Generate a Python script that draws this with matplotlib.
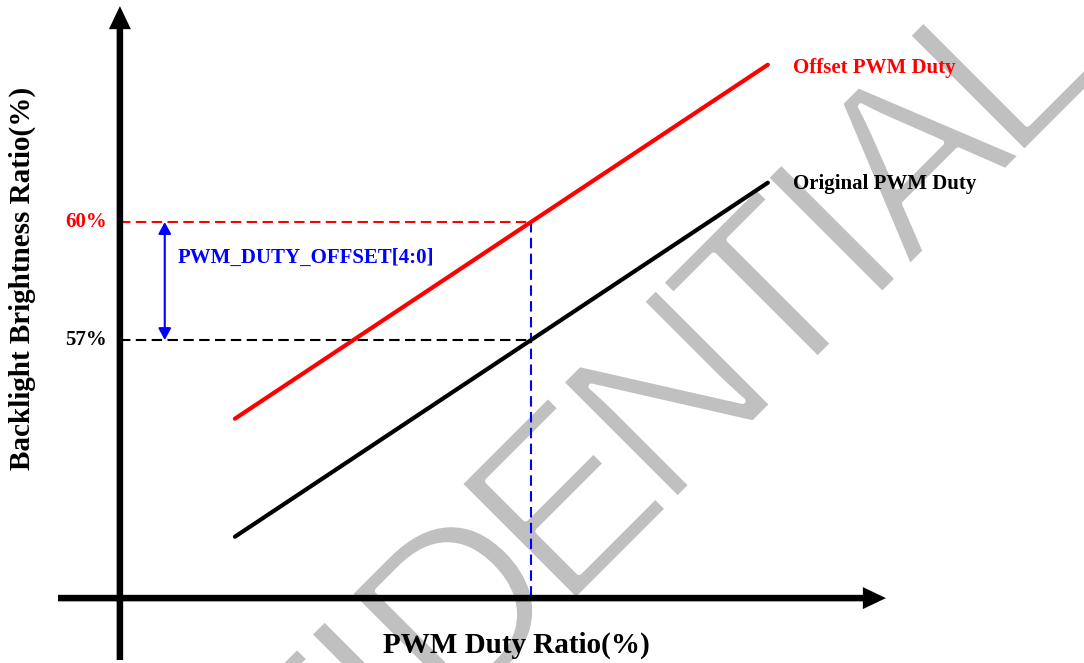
import numpy as np
import matplotlib
matplotlib.use('Agg')
import matplotlib.pyplot as plt
import matplotlib.patheffects as pe
from matplotlib.font_manager import FontProperties, findfont
from matplotlib.ft2font import FT2Font

# ---------------- data ----------------
duty = [20, 80]                    # PWM duty ratio (%) at the line ends
original_brightness = [52, 61]     # Original PWM Duty
offset_brightness = [55, 64]       # Offset PWM Duty
marked_levels = [57, 60]
marked_labels = ['57%', '60%']
series_labels = ['Original PWM Duty', 'Offset PWM Duty']
x_label = 'PWM Duty Ratio(%)'
y_label = 'Backlight Brightness Ratio(%)'
offset_label = 'PWM_DUTY_OFFSET[4:0]'
watermark = 'CONFIDENTIAL'

# ---------------- layout ----------------
SERIF = ['Liberation Serif', 'DejaVu Serif']
W, H = 1084, 663
fig = plt.figure(figsize=(W / 100, H / 100), dpi=100)
ax = fig.add_axes([0, 0, 1, 1])
ax.set_xlim(-6.45, 115.6)
ax.set_ylim(48.79, 65.645)
ax.axis('off')

X_AXIS_AT = 50.44   # brightness value where the x-axis is drawn
Y_AXIS_AT = 7.05    # duty value where the y-axis is drawn
ARROW_X = 12.1      # duty position of the offset arrow

# ---- watermark: condensed, light letters set along a 45 degree baseline ----
WM_FAMILY = 'Liberation Sans'
WM_SIZE = 173              # pt
WM_EM = WM_SIZE * 100 / 72  # px
WM_TRACK = 0.896           # letter pitch relative to the font's advances
ft = FT2Font(findfont(FontProperties(family=WM_FAMILY)))
ft.set_size(1000, 72)
advances = []
for ch in watermark:
    g = ft.load_char(ord(ch))
    advances.append(g.linearHoriAdvance / 65536 / 1000)
starts = np.concatenate([[0], np.cumsum(advances)[:-1]]) * WM_EM * WM_TRACK
end_anchor = np.array([1010.5, H - 166.5])       # pixel anchor of the last letter
direction = np.array([np.cos(np.pi / 4), np.sin(np.pi / 4)])
for ch, s in zip(watermark, starts):
    px = end_anchor - (starts[-1] - s) * direction
    ax.text(px[0] / W, px[1] / H, ch, transform=ax.transAxes,
            rotation=45, rotation_mode='anchor', ha='left', va='baseline',
            fontsize=WM_SIZE, color='#c0c0c0', family=WM_FAMILY,
            zorder=0, clip_on=False,
            path_effects=[pe.Normal(),
                          pe.Stroke(linewidth=4.3, foreground='white')])

# axis arrows
axis_style = 'simple,head_length=16.6,head_width=15.8,tail_width=4.7'
ax.annotate('', xy=(Y_AXIS_AT, 65.49), xytext=(Y_AXIS_AT, 48.865),
            arrowprops=dict(arrowstyle=axis_style, mutation_scale=1,
                            fc='black', ec='none', lw=0, shrinkA=0, shrinkB=0),
            annotation_clip=False, zorder=4)
ax.annotate('', xy=(93.3, X_AXIS_AT), xytext=(0.08, X_AXIS_AT),
            arrowprops=dict(arrowstyle=axis_style, mutation_scale=1,
                            fc='black', ec='none', lw=0, shrinkA=0, shrinkB=0),
            annotation_clip=False, zorder=4)

# series lines
ax.plot(duty, original_brightness, color='black', lw=3,
        solid_capstyle='round', zorder=3)
ax.plot(duty, offset_brightness, color='#ff0000', lw=3,
        solid_capstyle='round', zorder=3)

# guide lines
x_mark = np.interp(marked_levels[0], original_brightness, duty)
dash = (0, (5, 2.6))
ax.plot([Y_AXIS_AT, x_mark], [marked_levels[1]] * 2, color='#ff0000',
        lw=1.5, ls=dash, zorder=2)
ax.plot([Y_AXIS_AT, x_mark], [marked_levels[0]] * 2, color='black',
        lw=1.5, ls=dash, zorder=2)
ax.plot([x_mark, x_mark], [marked_levels[1], X_AXIS_AT], color='#0000ff',
        lw=1.5, ls=dash, zorder=2)

# level labels
for lvl, lab, col in zip(marked_levels, marked_labels, ['black', '#ff0000']):
    ax.annotate(lab, xy=(Y_AXIS_AT, lvl), xytext=(-13, 0),
                textcoords='offset pixels', ha='right', va='center',
                fontsize=15, fontweight='bold', family=SERIF, color=col)

# offset arrow + label
ax.annotate('', xy=(ARROW_X, marked_levels[1]), xytext=(ARROW_X, marked_levels[0]),
            arrowprops=dict(arrowstyle='<|-|>,head_length=0.7,head_width=0.38',
                            color='#0000ff', lw=1.5, shrinkA=0, shrinkB=0,
                            mutation_scale=10))
ax.annotate(offset_label, xy=(ARROW_X, np.mean(marked_levels)), xytext=(13, 23),
            textcoords='offset pixels', ha='left', va='center',
            fontsize=15, fontweight='bold', family=SERIF, color='#0000ff')

# series labels
for ys, lab, col, dy in zip([original_brightness, offset_brightness],
                            series_labels, ['black', '#ff0000'], [-1, -3]):
    ax.annotate(lab, xy=(duty[-1], ys[-1]), xytext=(25, dy),
                textcoords='offset pixels', ha='left', va='center',
                fontsize=15, fontweight='bold', family=SERIF, color=col)

# axis titles
ax.text(516 / W, 1 - 645 / H, x_label, transform=ax.transAxes,
        ha='center', va='center', fontsize=21, fontweight='bold', family=SERIF)
ax.text(22 / W, 1 - 278 / H, y_label, transform=ax.transAxes, rotation=90,
        ha='center', va='center', fontsize=21, fontweight='bold', family=SERIF)

fig.savefig('out.png', dpi=100)
